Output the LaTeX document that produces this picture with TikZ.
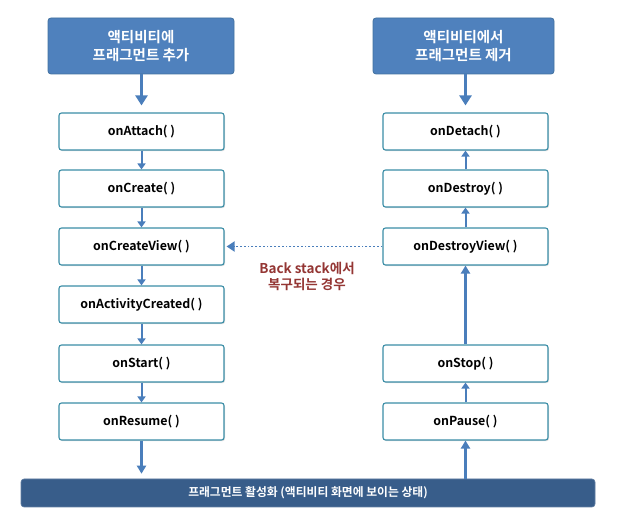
\documentclass[tikz,border=0pt]{standalone}
\usepackage{fontspec}
\setmainfont{Noto Sans CJK KR}[BoldFont={Noto Sans CJK KR Bold}]
\usetikzlibrary{arrows.meta,shadows}
\definecolor{boxline}{HTML}{3A8DA6}
\definecolor{topfill}{HTML}{4F81BD}
\definecolor{topline}{HTML}{41709F}
\definecolor{barfill}{HTML}{385D8A}
\definecolor{arrowc}{HTML}{4A7EBB}
\definecolor{labred}{HTML}{943634}
\begin{document}
\begin{tikzpicture}[x=1pt,y=-1pt,
  cb/.style={draw=boxline,line width=1.1pt,fill=white,rounded corners=2.5pt,minimum width=165pt,minimum height=37pt,inner sep=0pt,font=\bfseries\fontsize{12.4}{14}\selectfont,
    drop shadow={shadow xshift=1pt,shadow yshift=-1.2pt,opacity=0.25}},
  topbox/.style={draw=topline,line width=0.8pt,fill=topfill,rounded corners=3pt,text=white,align=center,inner sep=0pt,font=\bfseries\fontsize{14.5}{18}\selectfont},
  sarr/.style={draw=arrowc,line width=2pt,-{Triangle[length=6pt,width=8pt]}},
  barr/.style={draw=arrowc,line width=2.4pt,-{Triangle[length=10pt,width=12pt]}},
  marr/.style={draw=arrowc,line width=2.2pt,-{Triangle[length=8pt,width=9pt]}}
]
\useasboundingbox (0,0) rectangle (622,529);
% top boxes
\node[topbox,minimum width=186pt,minimum height=56pt] (addf) at (141,46) {액티비티에\\프래그먼트 추가};
\node[topbox,minimum width=181pt,minimum height=56pt] (remf) at (463.5,46) {액티비티에서\\프래그먼트 제거};
% left column
\node[cb] (attach) at (141.5,131.5) {onAttach( )};
\node[cb] (create) at (141.5,188.5) {onCreate( )};
\node[cb] (cview) at (141.5,246.5) {onCreateView( )};
\node[cb] (actc) at (141.5,304.5) {onActivityCreated( )};
\node[cb] (start) at (141.5,363.5) {onStart( )};
\node[cb] (resume) at (141.5,421.5) {onResume( )};
% right column
\node[cb] (detach) at (465.5,131.5) {onDetach( )};
\node[cb] (destroy) at (465.5,188.5) {onDestroy( )};
\node[cb] (dview) at (465.5,246.5) {onDestroyView( )};
\node[cb] (stop) at (465.5,363.5) {onStop( )};
\node[cb] (pause) at (465.5,421.5) {onPause( )};
% bottom bar
\node[draw=barfill!80!white,line width=0.6pt,fill=barfill,rounded corners=3pt,minimum width=574pt,minimum height=28pt,inner sep=0pt,text=white,font=\bfseries\fontsize{11.8}{14}\selectfont] (bar) at (308,493) {프래그먼트 활성화 (액티비티 화면에 보이는 상태)};
% left arrows
\draw[barr] (addf.south -| attach) -- ([yshift=7pt]attach.north);
\draw[sarr] (attach) -- (create);
\draw[sarr] (create) -- (cview);
\draw[sarr] (cview) -- (actc);
\draw[sarr] (actc) -- (start);
\draw[sarr] (start) -- (resume);
\draw[marr] (resume.south) -- ([yshift=5pt]bar.north -| resume);
% right arrows
\draw[barr] (remf.south -| detach) -- ([yshift=7pt]detach.north);
\draw[sarr] (destroy) -- (detach);
\draw[sarr] (dview) -- (destroy);
\draw[marr] (stop) -- (dview);
\draw[sarr] (pause) -- (stop);
\draw[marr] (bar.north -| pause) -- (pause.south);
% back stack
\draw[draw=arrowc,line width=1.8pt,dotted,-{Triangle[length=8pt,width=10pt]}] (dview.west) -- ([xshift=2pt]cview.east);
\node[text=labred,align=center,font=\bfseries\fontsize{13.5}{16}\selectfont] (lab) at (307,276) {Back stack에서\\복구되는 경우};
\end{tikzpicture}
\end{document}
